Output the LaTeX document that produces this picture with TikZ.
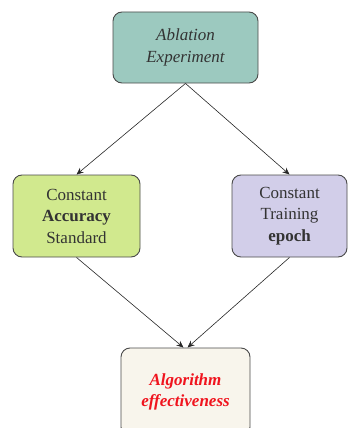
\documentclass[tikz,border=0pt]{standalone}
\usepackage{fontspec}
\setmainfont{Liberation Serif}
\usetikzlibrary{arrows.meta}
\definecolor{topfill}{HTML}{9CC9BF}
\definecolor{leftfill}{HTML}{D1E98E}
\definecolor{rightfill}{HTML}{D2CEE9}
\definecolor{botfill}{HTML}{F8F5EC}
\definecolor{edgegray}{HTML}{4A4A4A}
\definecolor{txtgray}{HTML}{333333}
\definecolor{redtxt}{HTML}{F0141E}
\tikzset{
  box/.style={draw=edgegray, line width=0.9pt, rounded corners=9pt, align=center,
    inner sep=0pt, font=\fontsize{17}{21.5}\selectfont, text=txtgray},
  conn/.style={draw=black!85, line width=0.6pt, -{Stealth[length=7pt,width=6pt]}}
}
\begin{document}
\begin{tikzpicture}[x=1pt,y=-1pt]
\useasboundingbox (0,0) rectangle (350,428);
\node[box, fill=topfill, minimum width=145pt, minimum height=71pt] (top) at (185.5,47.5)
  {\itshape Ablation\\\itshape Experiment};
\node[box, fill=leftfill, minimum width=127pt, minimum height=82pt] (left) at (76.5,216)
  {Constant\\\textbf{Accuracy}\\Standard};
\node[box, fill=rightfill, minimum width=115pt, minimum height=82pt] (right) at (289.5,216)
  {Constant\\Training\\\textbf{epoch}};
\node[box, fill=botfill, minimum width=129pt, minimum height=88pt, text=redtxt] (bot) at (185.5,392)
  {\bfseries\itshape Algorithm\\\bfseries\itshape effectiveness};
\draw[conn] (top.south) -- (left.north);
\draw[conn] (top.south) -- (right.north);
\draw[conn] (left.south) -- ([xshift=-2pt]bot.north);
\draw[conn] (right.south) -- ([xshift=2pt]bot.north);
\end{tikzpicture}
\end{document}
